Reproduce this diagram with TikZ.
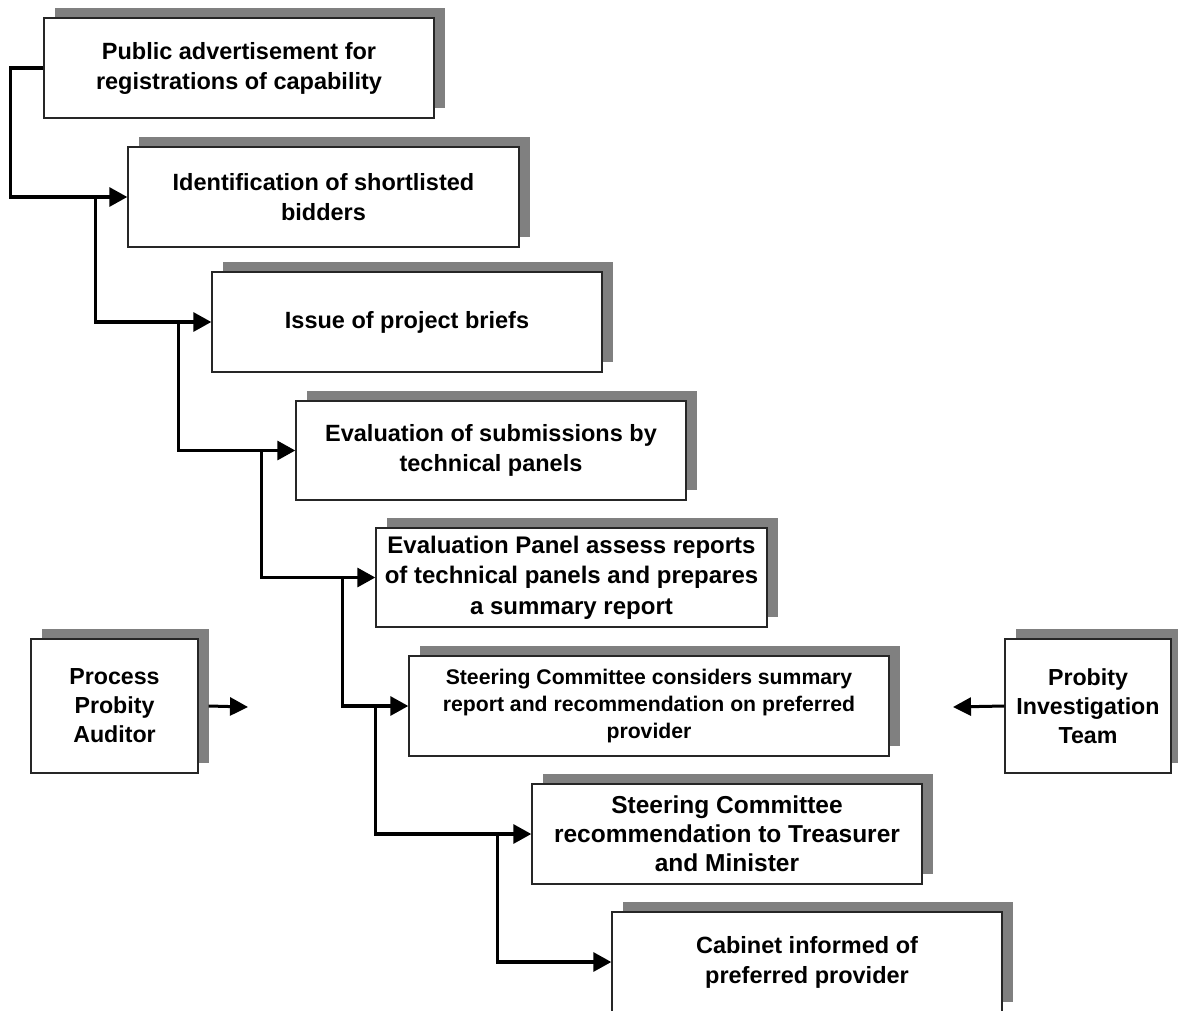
\documentclass[tikz,border=0pt]{standalone}
\usepackage{fontspec}
\setmainfont{Liberation Sans}
\usetikzlibrary{arrows.meta,shadows,calc}
\definecolor{shadowgray}{HTML}{808080}
\definecolor{boxline}{HTML}{262626}
\begin{document}
\begin{tikzpicture}[x=1pt,y=-1pt,
  box/.style={draw=boxline, line width=1.4pt, fill=white, align=center, inner sep=0pt,
    font=\bfseries\fontsize{23.5}{30}\selectfont,
    drop shadow={shadow xshift=11pt, shadow yshift=10pt, fill=shadowgray, opacity=1}},
  conn/.style={line width=3.2pt, -{Triangle[length=18pt,width=19pt]}},
  side/.style={line width=3pt, -{Triangle[length=18pt,width=18pt]}}]
\useasboundingbox (0,0) rectangle (1178,1010);

\node[box, minimum width=390pt, minimum height=100pt] (b1) at (239,68)
  {Public advertisement for\\registrations of capability};
\node[box, minimum width=391pt, minimum height=100pt] (b2) at (323.5,197)
  {Identification of shortlisted\\bidders};
\node[box, minimum width=390pt, minimum height=100pt] (b3) at (407,322)
  {Issue of project briefs};
\node[box, minimum width=390pt, minimum height=99pt] (b4) at (491,450.5)
  {Evaluation of submissions by\\technical panels};
\node[box, minimum width=391pt, minimum height=99pt, font=\bfseries\fontsize{24}{30.5}\selectfont] (b5) at (571.5,577.5)
  {Evaluation Panel assess reports\\of technical panels and prepares\\a summary report};
\node[box, minimum width=480pt, minimum height=100pt, font=\bfseries\fontsize{21.2}{27}\selectfont] (b6) at (649,706)
  {Steering Committee considers summary\\report and recommendation on preferred\\provider};
\node[box, minimum width=390pt, minimum height=100pt, font=\bfseries\fontsize{24.5}{29}\selectfont] (b7) at (727,834)
  {Steering Committee\\recommendation to Treasurer\\and Minister};
\node[box, minimum width=390pt, minimum height=100pt] (b8) at (807,962)
  {Cabinet informed of\\preferred provider};
\node[box, minimum width=167pt, minimum height=134pt, font=\bfseries\fontsize{23.2}{29}\selectfont] (pa) at (114.5,706)
  {Process\\Probity\\Auditor};
\node[box, minimum width=166pt, minimum height=134pt, font=\bfseries\fontsize{23.2}{29}\selectfont] (pit) at (1088,706)
  {Probity\\Investigation\\Team};

% main chain of connectors
\draw[conn] (b1.west) -- ++(-33,0) |- (b2.west);
\coordinate (j2) at ($(b2.west)+(-32,0)$);
\draw[conn] (j2) |- (b3.west);
\coordinate (j3) at ($(b3.west)+(-33,0)$);
\draw[conn] (j3) |- (b4.west);
\coordinate (j4) at ($(b4.west)+(-34,0)$);
\draw[conn] (j4) |- (b5.west);
\coordinate (j5) at ($(b5.west)+(-33,0)$);
\draw[conn] (j5) |- (b6.west);
\coordinate (j6) at ($(b6.west)+(-33,0)$);
\draw[conn] (j6) |- (b7.west);
\coordinate (j7) at ($(b7.west)+(-34,0)$);
\draw[conn] (j7) |- (b8.west);

% side arrows
\coordinate (paEnd) at (248,707);
\coordinate (pitEnd) at (953,707);
\draw[side] ([xshift=10pt]pa.east) -- (paEnd);
\draw[side] (pit.west) -- (pitEnd);
\end{tikzpicture}
\end{document}
